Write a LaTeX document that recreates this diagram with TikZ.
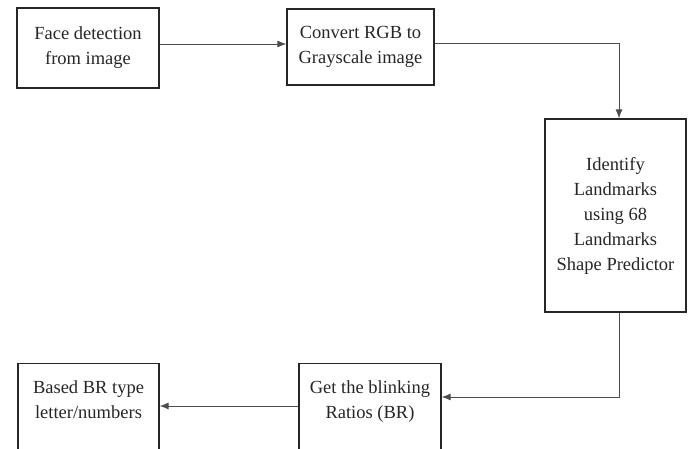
\documentclass[tikz,border=0pt]{standalone}
\usepackage{fontspec}
\setmainfont{Liberation Serif}
\usetikzlibrary{arrows.meta}

\begin{document}
\begin{tikzpicture}[
  x=1pt,
  y=-1pt,
  font=\fontsize{18.5}{25}\selectfont,
  stage/.style={
    rectangle,
    draw=black!85,
    line width=1.3pt,
    align=center,
    inner sep=0pt,
    text=black!85
  },
  openstage/.style={
    stage,
    anchor=north,
    minimum width=142pt,
    inner ysep=17.5pt,
    text depth=80pt
  },
  arr/.style={
    -{Latex[length=9pt,width=7pt]},
    draw=black!70,
    line width=0.9pt
  }
]

\useasboundingbox (0,0) rectangle (691,448);

% =========================================================
% STAGES
% =========================================================

\node[stage, minimum width=142pt, minimum height=80pt] (face) at (88,48)
  {Face detection\\from image};

\node[stage, minimum width=147pt, minimum height=76pt] (gray) at (360.5,47)
  {Convert RGB to\\Grayscale image};

\node[stage, minimum width=141pt, minimum height=193pt] (land) at (615.5,215.5)
  {Identify\\Landmarks\\using 68\\Landmarks\\Shape Predictor};

% --- bottom row, boxes run past the lower edge ---

\node[openstage] (ratio) at (370,363)
  {Get the blinking\\Ratios (BR)};

\node[openstage, minimum width=141pt] (based) at (88.5,363)
  {Based BR type\\letter/numbers};


% =========================================================
% FLOW
% =========================================================

\draw[arr]
  ([yshift=4pt]face.east) -- ([yshift=4pt]face.east -| gray.west);

\draw[arr]
  ([yshift=4pt]gray.east) -| ([xshift=3.5pt]land.north);

\draw[arr]
  ([xshift=3.5pt]land.south) |- ([yshift=-34pt]ratio.north east);

\draw[arr]
  ([yshift=-43pt]ratio.north west) -- ([yshift=-43pt]based.north east);

\end{tikzpicture}
\end{document}
